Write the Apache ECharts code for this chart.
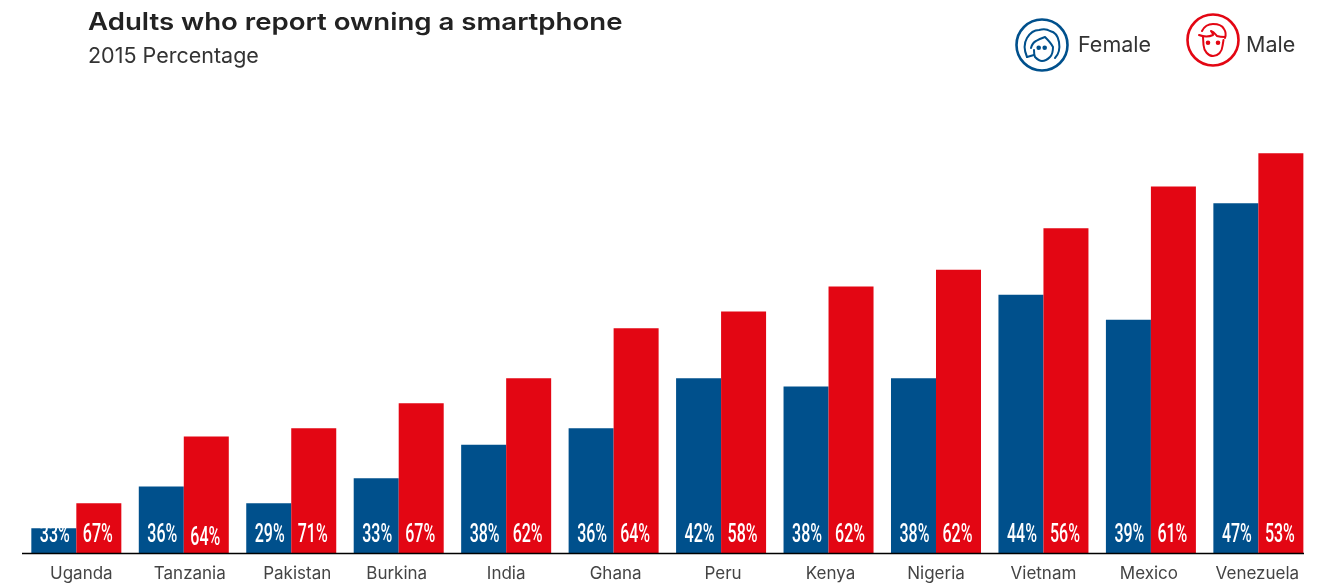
<!DOCTYPE html>
<html><head><meta charset="utf-8">
<style>html,body{margin:0;padding:0;background:#fff}#c{width:1320px;height:585px}</style>
<script src="https://cdn.jsdelivr.net/npm/echarts@6/dist/echarts.min.js"></script>
</head><body><div id="c"></div>
<script>
const categories=['Uganda','Tanzania','Pakistan','Burkina','India','Ghana','Peru','Kenya','Nigeria','Vietnam','Mexico','Venezuela'];
const femaleOwn=[3,8,6,9,13,15,21,20,21,31,28,42];
const maleOwn=[6,14,15,18,21,27,29,32,34,39,44,48];
const femaleShare=[33,36,29,33,38,36,42,38,38,44,39,47];
const maleShare=[67,64,71,67,62,64,58,62,62,56,61,53];
const BLUE='#00508c',RED='#e30613';
const svg=(c,face,h)=>'image://data:image/svg+xml;utf8,'+encodeURIComponent(
 `<svg xmlns="http://www.w3.org/2000/svg" width="56" height="${h}" viewBox="0 0 56 ${h}"><g fill="none" stroke="${c}" stroke-width="2" stroke-linecap="round" stroke-linejoin="round"><circle cx="28" cy="28" r="25.5" stroke-width="2.6"/>${face}</g></svg>`);
const femaleFace='<path d="M13 40 C10 33 10 26 13 21 C16 16 20 13 25 13 C29 12 33 12 36 14 C41 15 44 19 45 25 C46 31 45 37 41 41"/><path d="M13 40 L20 38"/><path d="M17 31 C18 27 20 25 22 24 C25 22 28 21 31 20 C34 23 37 26 39 30 C39 35 38 38 36 40 C33 43 30 44 28 44 C25 44 23 42 21 40 C20 38 20 35 20 33"/><circle cx="24.700" cy="30.700" r="1.300" fill="'+BLUE+'"/><circle cx="30.700" cy="30.700" r="1.300" fill="'+BLUE+'"/>';
const maleFace='<path d="M14 23 C19 25 24 25 28 23 C28 21 27 20 26 19 C29 20 31 23 32 24 C35 25 38 25 40 25"/><path d="M17 19 C19 15 23 12 28 12 C33 12 37 13 39 17 C41 20 41 23 40 26"/><path d="M18 25 L18.500 33 C19 39 23 44 28 44 C33 44 37 40 37.500 34 L38.500 28"/><circle cx="23" cy="30.700" r="1.300" fill="'+RED+'"/><circle cx="33" cy="30.700" r="1.300" fill="'+RED+'"/>';
const sans='Inter,"Open Sans",sans-serif';
const BAR=45;
// The reference's country names are hand-placed, a few pixels off bar-group centres.
const labelShift=[5,6,6,-2,0,2,2,2,0,0,-2,-1];
const categoryItems=categories.map((name,i)=>{
 const s=labelShift[i];
 return {value:name,textStyle:{padding:s>0?[0,0,0,2*s]:[0,-2*s,0,0]}};
});
function labelItem(side,nudgeX){
 return function(params,api){
  const i=api.value(0),p=api.coord([i,0]);
  const lowered=(side>0&&categories[i]==='Tanzania')?3:0;
  return {type:'text',x:p[0]+side*BAR/2+nudgeX,y:p[1]-17+lowered,scaleX:0.64,scaleY:1,
   style:{text:api.value(1)+'%',fontFamily:'Roboto,sans-serif',fontWeight:500,fontSize:25,fill:'#fff',align:'center',verticalAlign:'middle'},
   z2:10};
 };
}
const pairs=a=>a.map((v,i)=>[i,v]);
const legendText=(left)=>({color:'#333',fontFamily:sans,fontSize:21.5,padding:[0,0,0,left]});
const chart=echarts.init(document.getElementById('c'),null,{renderer:'canvas'});
chart.setOption({
 animation:false,
 backgroundColor:'#fff',
 graphic:[
  {type:'text',x:88,y:23,scaleX:1.15,style:{text:'Adults who report owning a smartphone',fontFamily:sans,fontSize:24,fontWeight:600,fill:'#222',verticalAlign:'middle'}},
  {type:'text',x:88,y:57,style:{text:'2015 Percentage',fontFamily:sans,fontSize:21.5,fill:'#333',verticalAlign:'middle'}},
  {type:'line',shape:{x1:22,y1:553.6,x2:1304,y2:553.6},style:{stroke:'#000',lineWidth:1.5},z:5}
 ],
 legend:[
  {data:[{name:'Female',icon:svg(BLUE,femaleFace,58)}],left:1014,top:17,itemWidth:56,itemHeight:58,itemGap:0,padding:0,selectedMode:false,textStyle:legendText(3)},
  {data:[{name:'Male',icon:svg(RED,maleFace,68)}],left:1185,top:12,itemWidth:56,itemHeight:68,itemGap:0,padding:0,selectedMode:false,textStyle:legendText(0)}
 ],
 grid:{left:22.6,width:1289.5,top:53.2,height:500},
 xAxis:{type:'category',data:categoryItems,axisTick:{show:false},
  axisLine:{show:false},
  axisLabel:{color:'#444',fontFamily:sans,fontSize:17,margin:12,interval:0,hideOverlap:false}},
 yAxis:{type:'value',min:0,max:60,show:false,splitLine:{show:false}},
 series:[
  {name:'Female',type:'bar',data:femaleOwn,barWidth:BAR,barGap:'0%',itemStyle:{color:BLUE}},
  {name:'Male',type:'bar',data:maleOwn,barWidth:BAR,barGap:'0%',itemStyle:{color:RED}},
  {name:'Female share',type:'custom',data:pairs(femaleShare),encode:{x:0,y:1},renderItem:labelItem(-1,1),z:5,silent:true,clip:false},
  {name:'Male share',type:'custom',data:pairs(maleShare),encode:{x:0,y:1},renderItem:labelItem(1,-1),z:5,silent:true,clip:false}
 ]
});
</script></body></html>
